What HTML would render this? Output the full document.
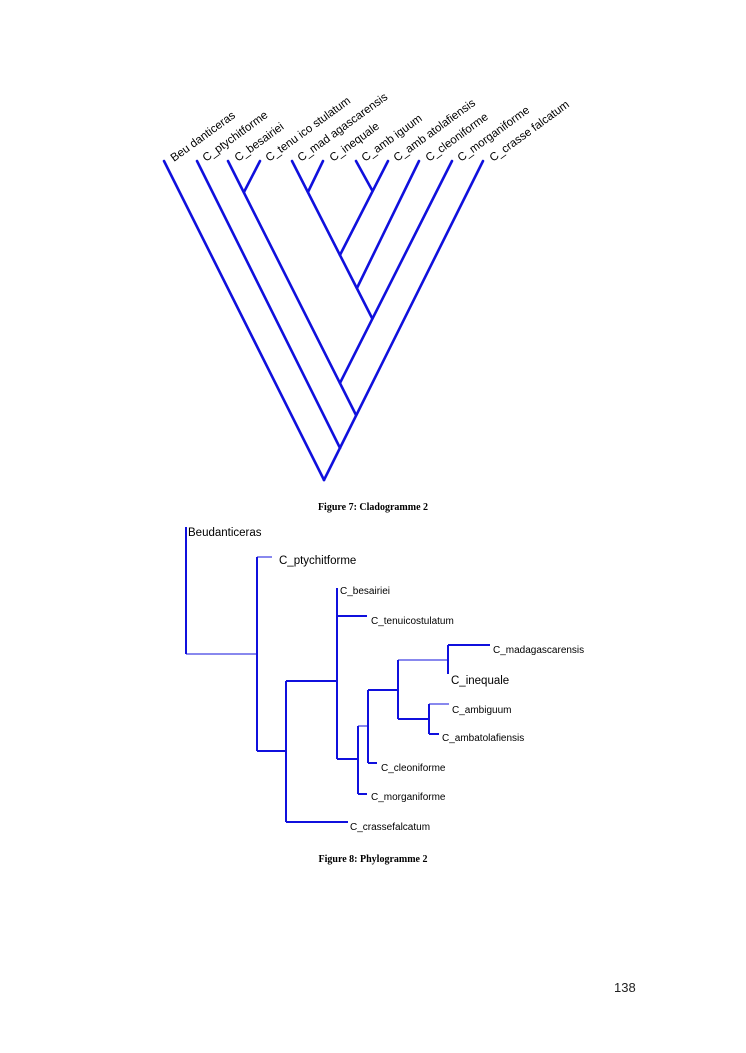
<!DOCTYPE html>
<html><head><meta charset="utf-8"><style>
html,body{margin:0;padding:0;background:#fff;}
svg{display:block;}
</style></head><body>
<svg width="746" height="1053" viewBox="0 0 746 1053" xmlns="http://www.w3.org/2000/svg">
<g stroke="#1010dd" stroke-width="2.6" fill="none" stroke-linecap="round">
<line x1="164" y1="161" x2="324" y2="480"/>
<line x1="483" y1="161" x2="324" y2="480"/>
<line x1="197" y1="161" x2="340" y2="448"/>
<line x1="228" y1="161" x2="356" y2="415"/>
<line x1="260" y1="161" x2="244" y2="192"/>
<line x1="452" y1="161" x2="340" y2="383"/>
<line x1="292" y1="161" x2="372" y2="318"/>
<line x1="323" y1="161" x2="308" y2="192"/>
<line x1="356" y1="161" x2="372" y2="190"/>
<line x1="388" y1="161" x2="340" y2="255"/>
<line x1="419" y1="161" x2="357" y2="288"/>
</g>
<g font-family="Liberation Sans, sans-serif" font-size="11.5" fill="#000">
<text transform="translate(174,162) rotate(-36)">Beu danticeras</text>
<text transform="translate(206,162) rotate(-36)">C_ptychitforme</text>
<text transform="translate(238,162) rotate(-36)">C_besairiei</text>
<text transform="translate(269,162) rotate(-36)">C_tenu ico stulatum</text>
<text transform="translate(301,162) rotate(-36)">C_mad agascarensis</text>
<text transform="translate(333,162) rotate(-36)">C_inequale</text>
<text transform="translate(365,162) rotate(-36)">C_amb iguum</text>
<text transform="translate(397,162) rotate(-36)">C_amb atolafiensis</text>
<text transform="translate(429,162) rotate(-36)">C_cleoniforme</text>
<text transform="translate(461,162) rotate(-36)">C_morganiforme</text>
<text transform="translate(493,162) rotate(-36)">C_crasse falcatum</text>
</g>
<text x="373" y="510" text-anchor="middle" font-family="Liberation Serif, serif" font-weight="bold" font-size="10">Figure 7: Cladogramme 2</text>

<g stroke="#1010dd" fill="none">
<g stroke-width="1">
<line x1="186" y1="654" x2="257" y2="654"/>
<line x1="257" y1="557" x2="272" y2="557"/>
<line x1="358" y1="726" x2="368" y2="726"/>
<line x1="398" y1="660" x2="448" y2="660"/>
<line x1="429" y1="704" x2="449" y2="704"/>
</g>
<g stroke-width="2">
<line x1="186" y1="527" x2="186" y2="654"/>
<line x1="257" y1="557" x2="257" y2="751"/>
<line x1="257" y1="751" x2="286" y2="751"/>
<line x1="286" y1="681" x2="286" y2="822"/>
<line x1="286" y1="681" x2="337" y2="681"/>
<line x1="286" y1="822" x2="348" y2="822"/>
<line x1="337" y1="588" x2="337" y2="759"/>
<line x1="337" y1="616" x2="367" y2="616"/>
<line x1="337" y1="759" x2="358" y2="759"/>
<line x1="358" y1="726" x2="358" y2="794"/>
<line x1="358" y1="794" x2="367" y2="794"/>
<line x1="368" y1="690" x2="368" y2="763"/>
<line x1="368" y1="763" x2="377" y2="763"/>
<line x1="368" y1="690" x2="398" y2="690"/>
<line x1="398" y1="660" x2="398" y2="719"/>
<line x1="448" y1="645" x2="448" y2="674"/>
<line x1="448" y1="645" x2="490" y2="645"/>
<line x1="398" y1="719" x2="429" y2="719"/>
<line x1="429" y1="704" x2="429" y2="734"/>
<line x1="429" y1="734" x2="439" y2="734"/>
</g>
</g>
<g font-family="Liberation Sans, sans-serif" fill="#000">
<text x="188" y="536" font-size="11.5">Beudanticeras</text>
<text x="279" y="564" font-size="11.5">C_ptychitforme</text>
<text x="340" y="594" font-size="10">C_besairiei</text>
<text x="371" y="624" font-size="10">C_tenuicostulatum</text>
<text x="493" y="653" font-size="10">C_madagascarensis</text>
<text x="451" y="684" font-size="11.5">C_inequale</text>
<text x="452" y="713" font-size="10">C_ambiguum</text>
<text x="442" y="741" font-size="10">C_ambatolafiensis</text>
<text x="381" y="771" font-size="10">C_cleoniforme</text>
<text x="371" y="800" font-size="10">C_morganiforme</text>
<text x="350" y="830" font-size="10">C_crassefalcatum</text>
</g>
<text x="373" y="862" text-anchor="middle" font-family="Liberation Serif, serif" font-weight="bold" font-size="10">Figure 8: Phylogramme 2</text>
<text x="614" y="992" font-family="Liberation Sans, sans-serif" font-size="13" fill="#222">138</text>
</svg>
</body></html>
